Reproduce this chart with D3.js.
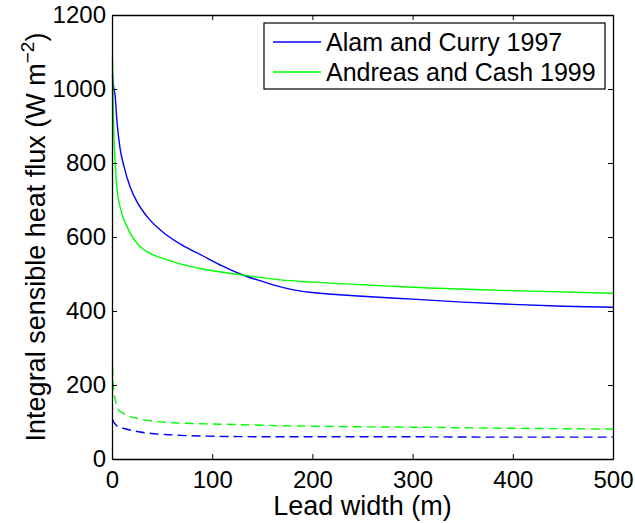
<!DOCTYPE html>
<html lang="en">
<head>
<meta charset="UTF-8">
<title>Integral sensible heat flux vs lead width</title>
<style>
  body { margin: 0; background: #fff; }
  svg text { font-family: "Liberation Sans", Arial, sans-serif; fill: #000; }
  .line { fill: none; stroke-width: 1.4px; }
</style>
</head>
<body>
<div id="chart"></div>
<script src="https://d3js.org/d3.v7.min.js"></script>
<script>
// lead width (m) and integral sensible heat flux (W m^-2)
const alamX      = [0.5, 1, 2, 3, 5, 8, 12, 18, 25, 35, 50, 70, 90, 110, 130, 150, 170, 190, 200, 250, 300, 350, 400, 450, 500];
const alamSolid  = [1040, 1020, 1000, 985, 910, 840, 790, 736, 695, 655, 615, 578, 550, 522, 498, 480, 464, 453, 450, 440, 432, 424, 418, 413, 410];
const andreasX     = [0.5, 1, 2, 3, 5, 8, 15, 28, 55, 88, 131, 168, 200, 250, 300, 400, 500];
const andreasSolid = [1083, 980, 870, 808, 730, 682, 628, 574, 538, 515, 497, 484, 478, 471, 464, 455, 448];

const dashX        = [0.5, 1, 2, 4.7, 6, 11, 28, 61, 111, 171, 250, 300, 400, 500];
const alamDashed   = [108, 104, 99, 90, 87, 83, 73, 65, 61, 60, 60, 60, 59, 59];
const andreasDashed = [248, 212, 180, 146, 135, 124, 108, 98, 94, 90, 87, 86, 83, 81];

const xTicks = [0, 100, 200, 300, 400, 500];
const yTicks = [0, 200, 400, 600, 800, 1000, 1200];

const series = [
  { name: "Alam and Curry 1997", x: alamX, y: alamSolid, color: "#0000ff", dash: null, legend: true },
  { name: "Andreas and Cash 1999", x: andreasX, y: andreasSolid, color: "#00ff00", dash: null, legend: true },
  { name: "Alam dashed", x: dashX, y: alamDashed, color: "#0000ff", dash: "9,5", legend: false },
  { name: "Andreas dashed", x: dashX, y: andreasDashed, color: "#00ff00", dash: "9,5", legend: false }
];

const width = 635, height = 523;
const margin = { top: 15, right: 22, bottom: 64, left: 112 };
const iw = width - margin.left - margin.right;
const ih = height - margin.top - margin.bottom;

const svg = d3.select("#chart").append("svg")
  .attr("width", width).attr("height", height);

const g = svg.append("g").attr("transform", `translate(${margin.left},${margin.top})`);

const x = d3.scaleLinear().domain([0, 500]).range([0, iw]);
const y = d3.scaleLinear().domain([0, 1200]).range([ih, 0]);

const line = d3.line()
  .x(d => x(d[0]))
  .y(d => y(d[1]))
  .curve(d3.curveMonotoneX);

series.forEach(s => {
  g.append("path")
    .attr("class", "line")
    .attr("d", line(s.x.map((v, i) => [v, s.y[i]])))
    .attr("stroke", s.color)
    .attr("stroke-dasharray", s.dash);
});

// axes with inward ticks on all four sides
const tickLen = 5;
const fmt = d3.format("d");
const xAxis = g.append("g").attr("transform", `translate(0,${ih})`)
  .call(d3.axisBottom(x).tickValues(xTicks).tickFormat(fmt).tickSizeInner(-tickLen).tickSizeOuter(0).tickPadding(12));
const yAxis = g.append("g")
  .call(d3.axisLeft(y).tickValues(yTicks).tickFormat(fmt).tickSizeInner(-tickLen).tickSizeOuter(0).tickPadding(6));
g.append("g")
  .call(d3.axisTop(x).tickValues(xTicks).tickSizeInner(-tickLen).tickSizeOuter(0).tickFormat(""));
g.append("g").attr("transform", `translate(${iw},0)`)
  .call(d3.axisRight(y).tickValues(yTicks).tickSizeInner(-tickLen).tickSizeOuter(0).tickFormat(""));

g.selectAll(".domain").attr("stroke", "#000").attr("stroke-width", 1.3);
g.selectAll(".tick line").attr("stroke", "#000");
g.selectAll(".tick text").style("font-size", "24px").attr("fill", "#000");
xAxis.selectAll(".tick text").attr("dy", "0.71em");

// axis titles
svg.append("text")
  .attr("x", margin.left + iw / 2)
  .attr("y", 515)
  .attr("text-anchor", "middle")
  .style("font-size", "27px")
  .text("Lead width (m)");

const yl = svg.append("text")
  .attr("transform", `translate(45,${margin.top + ih / 2}) rotate(-90)`)
  .attr("text-anchor", "middle")
  .style("font-size", "27px");
yl.append("tspan").text("Integral sensible heat flux (W m");
yl.append("tspan").attr("dy", -11).style("font-size", "19px").text("\u22122");
yl.append("tspan").attr("dy", 11).text(")");

// legend
const leg = svg.append("g");
leg.append("rect")
  .attr("x", 264).attr("y", 23).attr("width", 341).attr("height", 66)
  .attr("fill", "#fff").attr("stroke", "#000").attr("stroke-width", 1.2);
series.filter(s => s.legend).forEach((s, i) => {
  const cy = 42 + i * 30;
  leg.append("line")
    .attr("x1", 273).attr("x2", 321).attr("y1", cy).attr("y2", cy)
    .attr("stroke", s.color).attr("stroke-width", 1.4);
  leg.append("text")
    .attr("x", 326).attr("y", cy + 8.5)
    .style("font-size", "25px")
    .text(s.name);
});
</script>
</body>
</html>
